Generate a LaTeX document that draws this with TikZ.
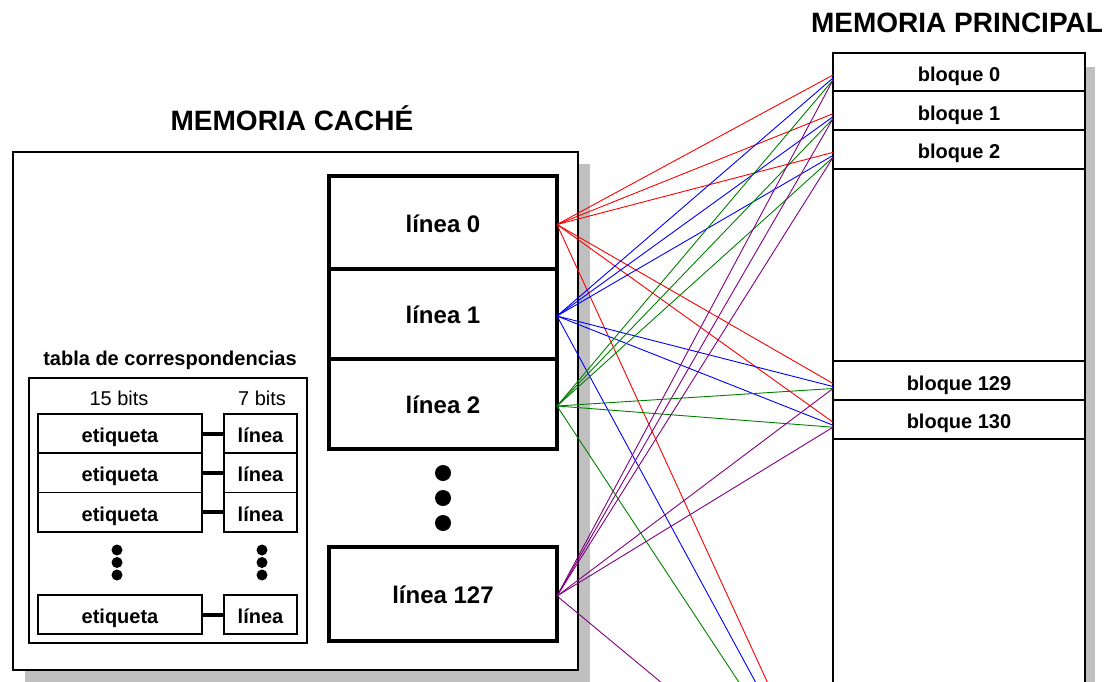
\documentclass[tikz,border=0pt]{standalone}
\usepackage{fontspec}
\setmainfont{Liberation Sans}
\usetikzlibrary{positioning}

\definecolor{shadowgray}{RGB}{192,192,192}
\definecolor{mapgreen}{RGB}{0,128,0}
\definecolor{mappurple}{RGB}{128,0,128}

\tikzset{
  lineabox/.style={draw, line width=3.5pt, minimum width=228pt, inner sep=0pt, outer sep=0pt,
    text height=19pt, text depth=0pt, font=\fontsize{24}{28}\selectfont\bfseries},
  bloquebox/.style={draw, line width=2pt, minimum width=252pt, minimum height=38.7pt,
    inner sep=0pt, outer sep=0pt, text height=19pt, text depth=0pt,
    font=\fontsize{20}{24}\selectfont\bfseries},
  tagbox/.style={draw, line width=1.5pt, minimum height=39.3pt, inner sep=0pt, outer sep=0pt,
    text height=18pt, text depth=0pt, font=\fontsize{20}{24}\selectfont\bfseries},
  titulo/.style={font=\fontsize{28}{32}\selectfont\bfseries, anchor=base},
  mapline/.style={line width=0.9pt},
}

\begin{document}
\begin{tikzpicture}[x=1pt, y=-1pt]
\path[use as bounding box, clip] (0,0) rectangle (1107,681);

% cache memory frame with shadow
\fill[shadowgray] (25,164) rectangle (590,690);
\draw[line width=1.8pt, fill=white] (13,152) rectangle (578,670);
\node[titulo] (cachetit) at (292,130) {MEMORIA CACHÉ};

% cache lines
\node[lineabox, minimum height=93pt] (l0) at (443,222.5) {línea 0};
\node[lineabox, minimum height=90pt, below=0pt of l0] (l1) {línea 1};
\node[lineabox, minimum height=90pt, below=0pt of l1] (l2) {línea 2};
\node[lineabox, minimum height=94pt] (l127) at (443,594) {línea 127};
\foreach \y in {473,498,523}
  \fill (443,\y) circle (8pt);

% mapping table
\node[font=\fontsize{20}{24}\selectfont\bfseries, anchor=base] (tabtit) at (170,365) {tabla de correspondencias};
\draw[line width=1.5pt] (29,378) rectangle (307,643);
\node[font=\fontsize{20}{24}\selectfont, anchor=base] (bitsA) at (119,405) {15 bits};
\node[font=\fontsize{20}{24}\selectfont, anchor=base] (bitsB) at (262,405) {7 bits};
\foreach \y/\n in {433.5/1, 472.8/2, 512.1/3, 614.5/4} {
  \node[tagbox, minimum width=164pt] (et\n) at (120,\y) {etiqueta};
  \node[tagbox, minimum width=73pt] (li\n) at (260.5,\y) {línea};
  \draw[line width=4pt] (et\n.east) -- (li\n.west);
}
\foreach \y in {550,562.5,575} {
  \fill (117,\y) circle (5.5pt);
  \fill (262,\y) circle (5.5pt);
}

% main memory
\fill[shadowgray] (1085,67) rectangle (1095,700);
\node[titulo] (mptit) at (957,32) {MEMORIA PRINCIPAL};
\node[bloquebox] (b0) at (959,72) {bloque 0};
\node[bloquebox, below=0pt of b0] (b1) {bloque 1};
\node[bloquebox, below=0pt of b1] (b2) {bloque 2};
\node[bloquebox] (b129) at (959,380.5) {bloque 129};
\node[bloquebox, below=0pt of b129] (b130) {bloque 130};
\draw[line width=2pt] (833,700) |- (1085,53) -- (1085,700);
\coordinate (bfar) at (833,825);

% every cache line may hold any block
\foreach \src/\col/\dy in {l0/red/3, l1/blue/6, l2/mapgreen/8, l127/mappurple/8} {
  \foreach \dst in {b0,b1,b2,b129,b130}
    \draw[mapline, \col] ([yshift=-2pt]\src.east) -- ([yshift=-\dy pt]\dst.west);
  \draw[mapline, \col] ([yshift=-2pt]\src.east) -- (bfar);
}
\end{tikzpicture}
\end{document}
